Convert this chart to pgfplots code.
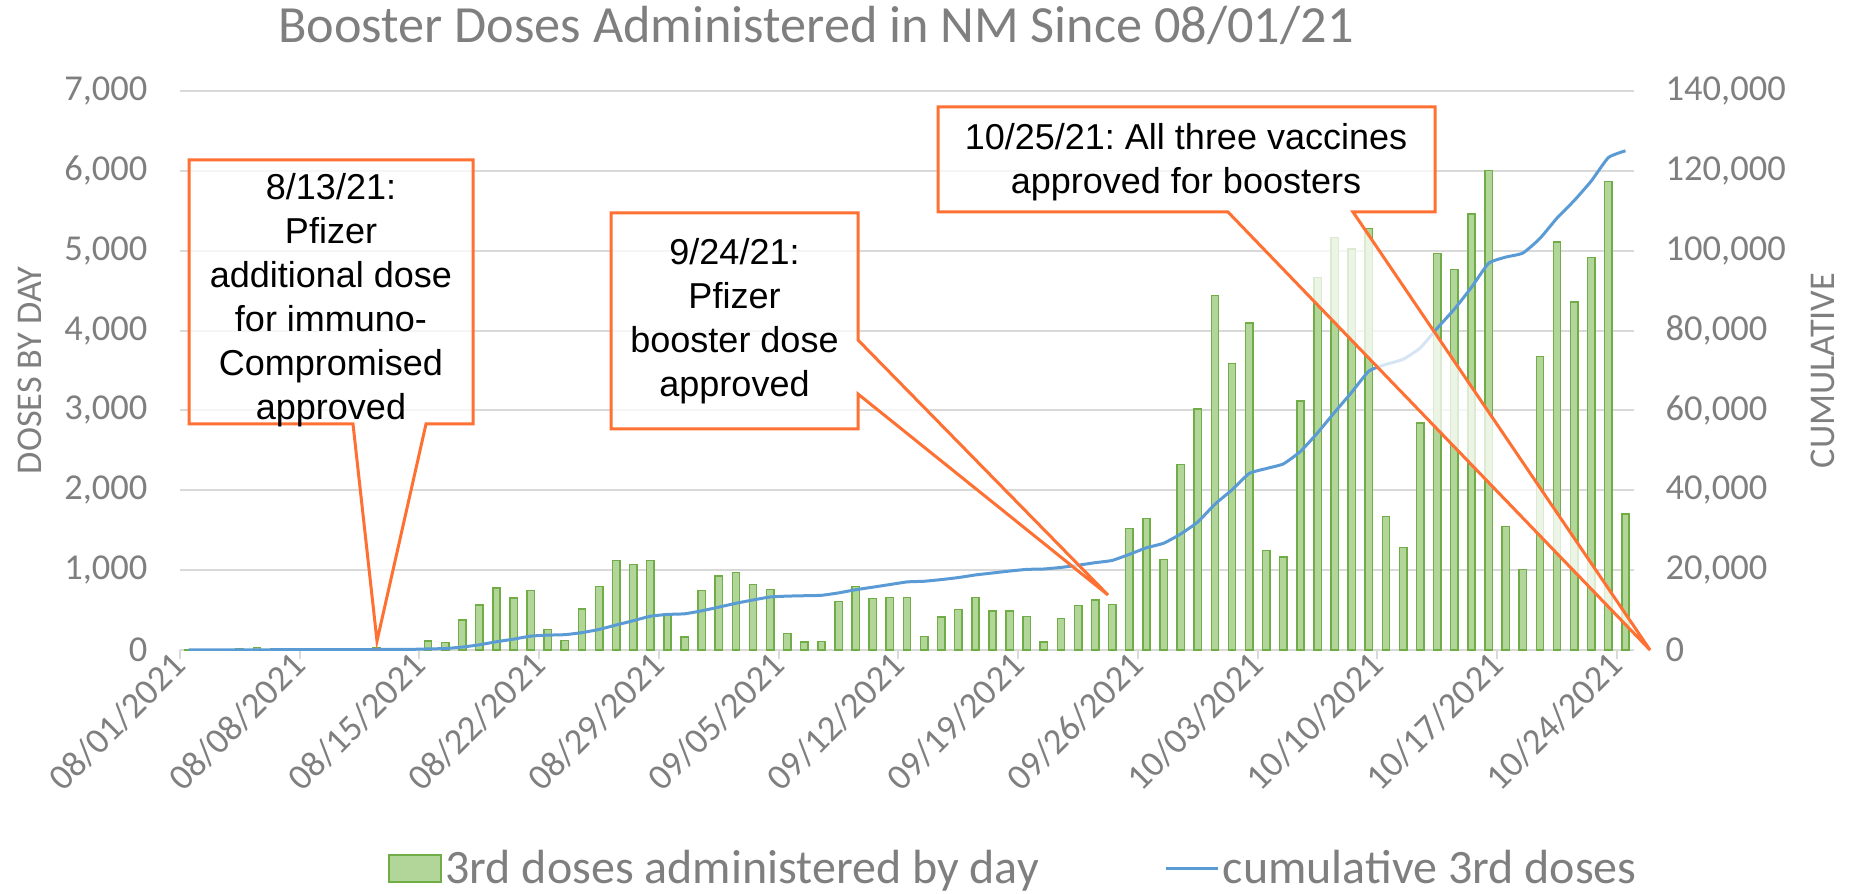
\documentclass[border=0pt]{standalone}
\usepackage{fontspec}
\setmainfont{Carlito}
\newfontfamily\callfont{Liberation Sans}
\usepackage{pgfplots}
\pgfplotsset{compat=1.18}
\usepackage{pgfplotstable}
\frenchspacing

\definecolor{txtgray}{RGB}{127,127,127}
\definecolor{gridgray}{RGB}{217,217,217}
\definecolor{bargreen}{RGB}{112,173,71}
\definecolor{barfill}{RGB}{178,213,153}
\definecolor{lineblue}{RGB}{91,155,213}
\definecolor{callorange}{RGB}{255,112,51}

% day 0 = 08/01/2021
\pgfplotstableread{
day daily cumul
0 5 5
1 3 8
2 8 16
3 10 26
4 30 56
5 12 68
6 8 76
7 2 78
8 2 80
9 10 90
10 12 102
11 28 130
12 10 140
13 22 162
14 113 275
15 92 367
16 373 740
17 561 1301
18 776 2077
19 651 2728
20 745 3473
21 254 3727
22 117 3844
23 515 4359
24 793 5152
25 1122 6274
26 1068 7342
27 1118 8460
28 450 8910
29 163 9073
30 743 9816
31 926 10742
32 968 11710
33 822 12532
34 755 13287
35 209 13496
36 100 13596
37 104 13700
38 605 14305
39 793 15098
40 643 15741
41 655 16396
42 659 17055
43 167 17222
44 413 17635
45 509 18144
46 655 18799
47 488 19287
48 488 19775
49 417 20192
50 100 20292
51 392 20684
52 559 21243
53 626 21869
54 572 22441
55 1523 23964
56 1644 25608
57 1134 26742
58 2323 29065
59 3016 32081
60 4439 36520
61 3587 40107
62 4095 44202
63 1247 45449
64 1163 46612
65 3121 49733
66 4662 54395
67 5166 59561
68 5019 64580
69 5279 69859
70 1672 71531
71 1281 72812
72 2843 75655
73 4964 80619
74 4767 85386
75 5460 90846
76 6006 96852
77 1546 98398
78 1008 99406
79 3675 103081
80 5111 108192
81 4355 112547
82 4914 117461
83 5867 123328
84 1701 125029
}\doses

\pgfplotsset{
  common/.style={
    at={(0,0)}, anchor=south west,
    scale only axis, width=581.6pt, height=223.6pt,
    xmin=-0.5, xmax=84.5,
    axis line style={draw=none},
    scaled y ticks=false,
    /pgf/number format/fixed,
    /pgf/number format/precision=0,
    /pgf/number format/1000 sep={,},
    /pgf/number format/assume math mode=true,
    tick label style={font=\fontsize{14.6}{17}\selectfont, text=txtgray},
    ytick style={draw=none},
    label style={font=\fontsize{14.5}{17}\selectfont, text=txtgray},
  },
}

\begin{document}
\begin{tikzpicture}
\begin{axis}[
  common,
  ymin=0, ymax=7000,
  ytick={0,1000,...,7000},
  ymajorgrids,
  grid style={draw=gridgray, line width=0.8pt},
  xtick={-0.5,6.5,...,83.5},
  xticklabels={08/01/2021,08/08/2021,08/15/2021,08/22/2021,08/29/2021,09/05/2021,09/12/2021,09/19/2021,09/26/2021,10/03/2021,10/10/2021,10/17/2021,10/24/2021},
  xtick pos=bottom,
  xtick align=outside,
  major tick length=3.6pt,
  xtick style={draw=gridgray, line width=0.8pt},
  xticklabel style={rotate=45, anchor=east, xshift=3.3pt},
  yticklabel style={xshift=-9.5pt},
  ylabel={DOSES BY DAY},
  ylabel style={at={(axis description cs:-0.1032,0.5)}, anchor=center},
]
\addplot[ybar, bar width=0.43, fill=barfill, draw=bargreen, line width=0.6pt]
  table[x=day, y=daily] {\doses};
\end{axis}

\begin{axis}[
  common,
  ymin=0, ymax=140000,
  ytick={0,20000,...,140000},
  hide x axis,
  yticklabel pos=right,
  yticklabel style={xshift=9.1pt},
  ylabel={CUMULATIVE},
  ylabel style={at={(axis description cs:1.1296,0.5)}, anchor=center, rotate=0},
  legend style={at={(0.5736,-0.391)}, anchor=center, draw=none, fill=none,
    legend columns=2, font=\fontsize{19.2}{22}\selectfont, text=txtgray,
    /tikz/every even column/.append style={column sep=49pt},
    nodes={inner sep=1.2pt}},
]
\addlegendimage{legend image code/.code={%
  \draw[fill=barfill, draw=bargreen, line width=0.8pt] (0pt,-5.4pt) rectangle (20.8pt,5.4pt);}}
\addlegendentry{3rd doses administered by day}
\addplot[lineblue, line width=1.2pt, smooth, tension=0.3, mark=none,
  legend image code/.code={\draw[lineblue, line width=1.2pt] (0pt,0pt) -- (21pt,0pt);}]
  table[x=day, y=cumul] {\doses};
\addlegendentry{cumulative 3rd doses}
\end{axis}

% annotations, in pixel units of the reference
\begin{scope}[shift={(-72pt,260pt)}, x=0.4pt, y=-0.4pt]
\node[anchor=base, font=\fontsize{20.9}{24}\selectfont, text=txtgray] at (816,43)
  {Booster Doses Administered in NM Since 08/01/21};

\tikzset{callout/.style={draw=callorange, line width=1.2pt, fill=white, fill opacity=0.75},
  calltext/.style={align=center, font=\callfont\fontsize{14.4}{17.6}\selectfont, text=black}}
\draw[callout] (189,160) -- (473,160) -- (473,424) -- (426,424) -- (377,641)
  -- (353,424) -- (189,424) -- cycle;
\node[calltext] at (331,300) {8/13/21:\\Pfizer\\additional dose\\for immuno-\\Compromised\\approved};

\draw[callout] (611,213) -- (858,213) -- (858,340) -- (1108,595) -- (858,394)
  -- (858,429) -- (611,429) -- cycle;
\node[calltext] at (734.5,321) {9/24/21:\\Pfizer\\booster dose\\approved};

\draw[callout] (938,107) -- (1435,107) -- (1435,212) -- (1353,212) -- (1650,650)
  -- (1228,212) -- (938,212) -- cycle;
\node[calltext] at (1186,162) {10/25/21: All three vaccines\\approved for boosters};

\pgfresetboundingbox
\path[use as bounding box] (0,0) rectangle (1858,893);
\end{scope}
\end{tikzpicture}
\end{document}
